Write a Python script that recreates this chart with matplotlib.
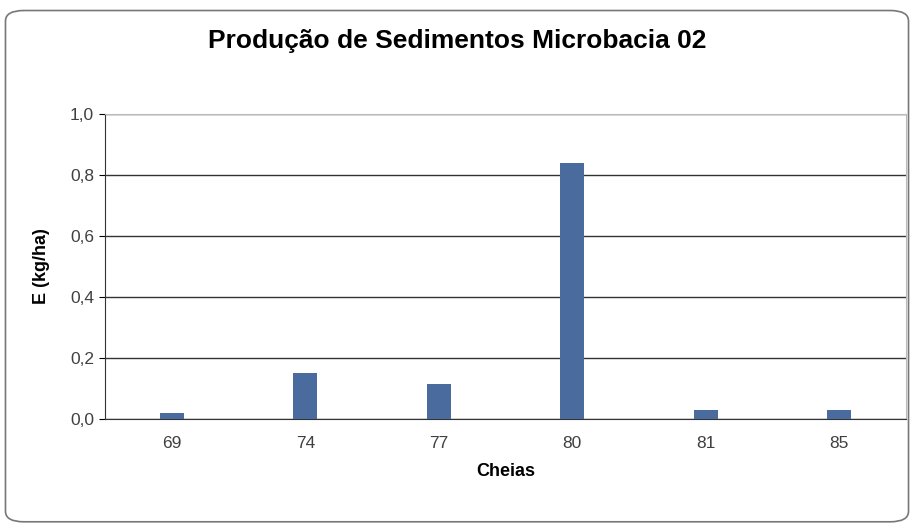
import matplotlib
matplotlib.use('Agg')
import matplotlib.pyplot as plt
from matplotlib.patches import FancyBboxPatch
import numpy as np

plt.rcParams['font.family'] = ['Liberation Sans Narrow', 'Liberation Sans', 'DejaVu Sans']

cheias = ['69', '74', '77', '80', '81', '85']
erosao = [0.021, 0.15, 0.114, 0.84, 0.03, 0.03]
yticks = [0.0, 0.2, 0.4, 0.6, 0.8, 1.0]
ylabels = ['0,0', '0,2', '0,4', '0,6', '0,8', '1,0']

fig = plt.figure(figsize=(9.14, 5.26), dpi=100)

# rounded frame round the whole chart
frame = FancyBboxPatch((0.006, 0.008), 0.988, 0.972, boxstyle='round,pad=0,rounding_size=0.02',
                       transform=fig.transFigure, fill=False, edgecolor='#777777', linewidth=1.2)
fig.patches.append(frame)

ax = fig.add_axes([0.1149, 0.2034, 0.8763, 0.5799])
x = np.arange(len(cheias))
ax.bar(x, erosao, width=0.18, color='#4a6b9e', zorder=3)

ax.set_xlim(-0.5, len(cheias) - 0.5)
ax.set_ylim(0, 1.0)
ax.set_yticks(yticks)
ax.set_yticklabels(ylabels)
ax.set_xticks(x)
ax.set_xticklabels(cheias)
ax.yaxis.grid(True, color='#333333', linewidth=1.0, zorder=0)

for s in ['top', 'right']:
    ax.spines[s].set_color('#bbbbbb')
    ax.spines[s].set_linewidth(0.8)
ax.spines['left'].set_color('#333333')
ax.spines['bottom'].set_color('#333333')
ax.tick_params(axis='x', length=0, pad=12, labelsize=12.5, labelcolor='#404040')
ax.tick_params(axis='y', length=4, direction='out', pad=4, labelsize=12.5, labelcolor='#404040')

ax.set_xlabel('Cheias', fontsize=13, fontweight='bold', labelpad=9)
ax.set_ylabel('E (kg/ha)', fontsize=13, fontweight='bold', labelpad=14)
fig.text(0.5, 0.922, 'Produção de Sedimentos Microbacia 02', ha='center', va='center',
         fontsize=19, fontweight='bold')

fig.savefig('out.png', dpi=100)
